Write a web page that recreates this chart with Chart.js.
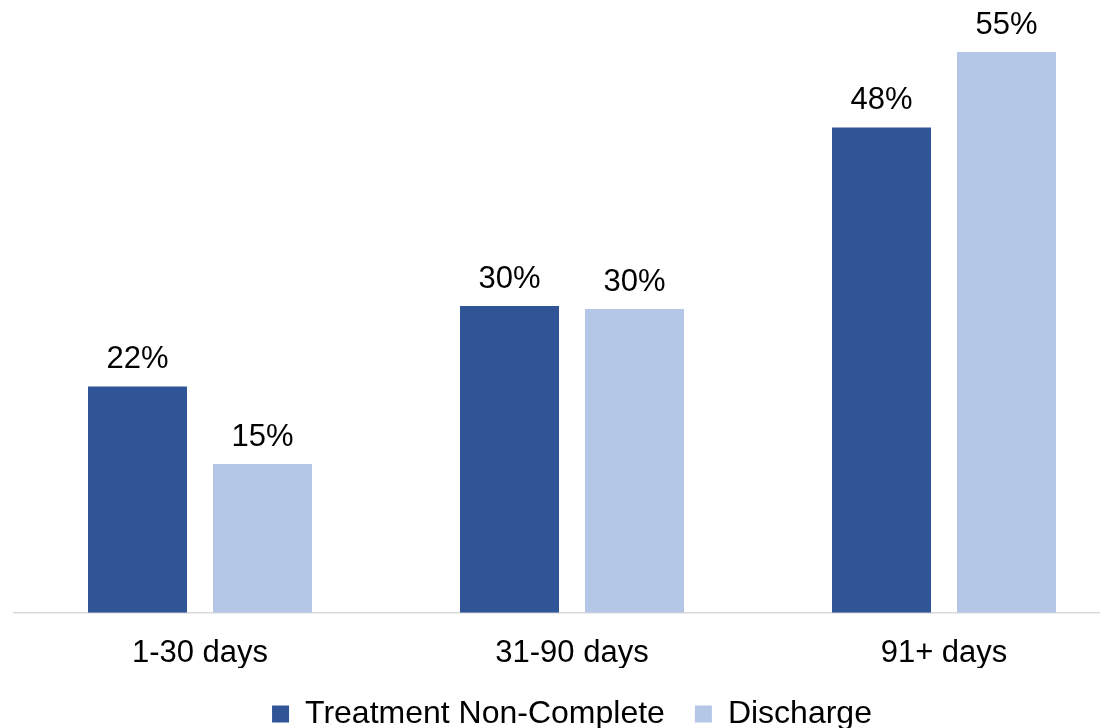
<!DOCTYPE html>
<html>
<head>
<meta charset="utf-8">
<script src="https://cdn.jsdelivr.net/npm/chart.js@4"></script>
<style>
  html, body { margin: 0; padding: 0; background: #fff; overflow: hidden; }
  .chart-box { width: 1144px; height: 740px; position: relative; }
</style>
</head>
<body>
<div class="chart-box"><canvas id="barChart"></canvas></div>
<script>
"use strict";

var categories = ["1-30 days", "31-90 days", "91+ days"];
var seriesNames = ["Treatment Non-Complete", "Discharge"];
var treatmentValues = [22.2, 30.1, 47.6];
var dischargeValues = [14.6, 29.8, 55.0];

var barColors = ["#2F5597", "#B4C7E7"];
var fontFamily = "'Liberation Sans', Arial, sans-serif";

// labels above each bar, placed from the bar elements
var valueLabels = {
  id: "valueLabels",
  afterDatasetsDraw: function (chart) {
    var ctx = chart.ctx;
    ctx.save();
    ctx.font = "31px " + fontFamily;
    ctx.fillStyle = "#000";
    ctx.textAlign = "center";
    ctx.textBaseline = "alphabetic";
    chart.data.datasets.forEach(function (ds, i) {
      chart.getDatasetMeta(i).data.forEach(function (bar, j) {
        ctx.fillText(Math.round(ds.data[j]) + "%", bar.x, bar.y - 18);
      });
    });
    ctx.restore();
  }
};

new Chart(document.getElementById("barChart"), {
  type: "bar",
  data: {
    labels: categories,
    datasets: [
      {
        label: seriesNames[0],
        data: treatmentValues,
        backgroundColor: barColors[0],
        borderWidth: 0,
        categoryPercentage: 0.672,
        barPercentage: 0.792
      },
      {
        label: seriesNames[1],
        data: dischargeValues,
        backgroundColor: barColors[1],
        borderWidth: 0,
        categoryPercentage: 0.672,
        barPercentage: 0.792
      }
    ]
  },
  options: {
    responsive: true,
    maintainAspectRatio: false,
    animation: false,
    layout: {
      padding: { left: 14, right: 14, top: 1, bottom: 0 }
    },
    scales: {
      x: {
        grid: { display: false, drawTicks: false },
        border: { display: true, color: "#D9D9D9", width: 1.5 },
        ticks: {
          color: "#000",
          padding: 22,
          font: { size: 31, family: fontFamily }
        },
        // tighter gap between tick labels and legend
        afterFit: function (scale) {
          scale.height -= 26;
        }
      },
      y: {
        display: false,
        min: 0,
        max: 60
      }
    },
    plugins: {
      legend: {
        position: "bottom",
        labels: {
          color: "#000",
          boxWidth: 17,
          boxHeight: 17,
          padding: 30,
          font: { size: 32, family: fontFamily }
        }
      },
      tooltip: { enabled: false }
    }
  },
  plugins: [valueLabels]
});
</script>
</body>
</html>
